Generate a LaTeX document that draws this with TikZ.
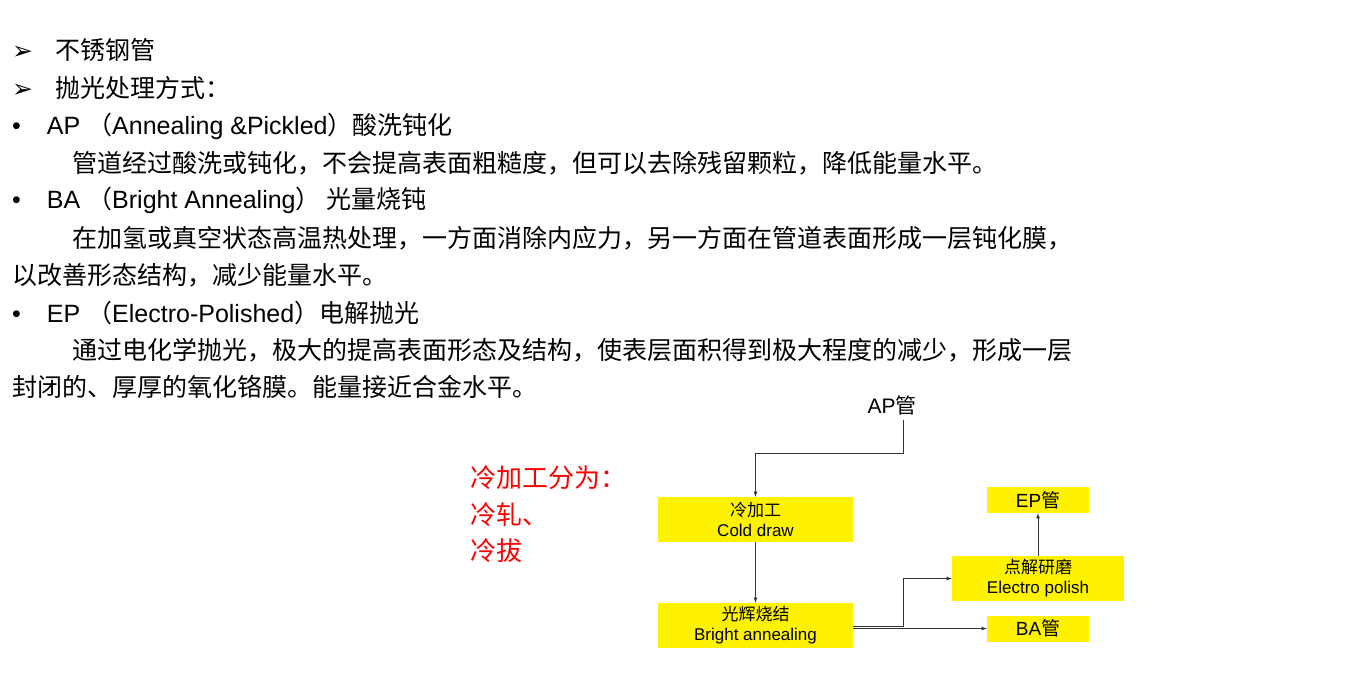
\documentclass[tikz,border=0pt]{standalone}
\usepackage{fontspec}
\setmainfont{Liberation Sans}
\newfontfamily\cjk{Noto Sans CJK SC}
\newfontfamily\dv{DejaVu Sans}
\begin{document}
\begin{tikzpicture}[x=1pt,y=-1pt,
  txt/.style={anchor=west,inner sep=0pt,font=\fontsize{25}{30}\selectfont},
  box/.style={fill=yellow,inner sep=0pt,align=center,font=\fontsize{17}{20}\selectfont},
  con/.style={draw=black!80,line width=0.8pt,-latex}]
\useasboundingbox (0,0) rectangle (1356,681);
\node[txt] (l1) at (12,50) {{\dv ➢}\hspace{22pt}\cjk 不锈钢管};
\node[txt] (l2) at (12,88) {{\dv ➢}\hspace{22pt}\cjk 抛光处理方式：};
\node[txt] (l3) at (12,126) {•\hspace{26pt}AP {\cjk （}Annealing \&Pickled{\cjk ）酸洗钝化}};
\node[txt] (l4) at (72,163) {\cjk 管道经过酸洗或钝化，不会提高表面粗糙度，但可以去除残留颗粒，降低能量水平。};
\node[txt] (l5) at (12,200) {•\hspace{26pt}BA {\cjk （}Bright Annealing{\cjk ） 光量烧钝}};
\node[txt] (l6) at (72,238) {\cjk 在加氢或真空状态高温热处理，一方面消除内应力，另一方面在管道表面形成一层钝化膜，};
\node[txt] (l7) at (12,275) {\cjk 以改善形态结构，减少能量水平。};
\node[txt] (l8) at (12,313) {•\hspace{26pt}EP {\cjk （}Electro-Polished{\cjk ）电解抛光}};
\node[txt] (l9) at (72,350) {\cjk 通过电化学抛光，极大的提高表面形态及结构，使表层面积得到极大程度的减少，形成一层};
\node[txt] (l10) at (12,387) {\cjk 封闭的、厚厚的氧化铬膜。能量接近合金水平。};
\node[txt,text=red,font=\fontsize{26}{30}\selectfont\cjk] (r1) at (470,478) {冷加工分为：};
\node[txt,text=red,font=\fontsize{26}{30}\selectfont\cjk] (r2) at (470,515) {冷轧、};
\node[txt,text=red,font=\fontsize{26}{30}\selectfont\cjk] (r3) at (470,551) {冷拔};
\node[inner sep=0pt,font=\fontsize{21}{24}\selectfont] (ap) at (892,405) {AP{\cjk 管}};
\coordinate (apx) at (903,420);
\node[box,minimum width=195pt,minimum height=45pt] (cd) at (755.5,519.5) {{\cjk 冷加工}\\Cold draw};
\node[box,minimum width=195pt,minimum height=45pt] (ba) at (755.5,625.5) {{\cjk 光辉烧结}\\Bright annealing};
\node[box,minimum width=172pt,minimum height=45pt] (ep) at (1038,578.5) {{\cjk 点解研磨}\\Electro polish};
\node[box,minimum width=102pt,minimum height=26pt,font=\fontsize{19}{22}\selectfont] (ept) at (1038,500) {EP{\cjk 管}};
\node[box,minimum width=102pt,minimum height=26pt,font=\fontsize{19}{22}\selectfont] (bat) at (1038,628.5) {BA{\cjk 管}};
\coordinate (b1) at (853,626);
\coordinate (b2) at (853,628.5);
\draw[con] (apx) -- ++(0,33) -| (cd.north);
\draw[con] (cd) -- (ba);
\draw[con] (b1) -- (903,626) |- (ep.west);
\draw[con] (b2) -- (bat.west);
\draw[con] (ep) -- (ept);
\end{tikzpicture}
\end{document}
